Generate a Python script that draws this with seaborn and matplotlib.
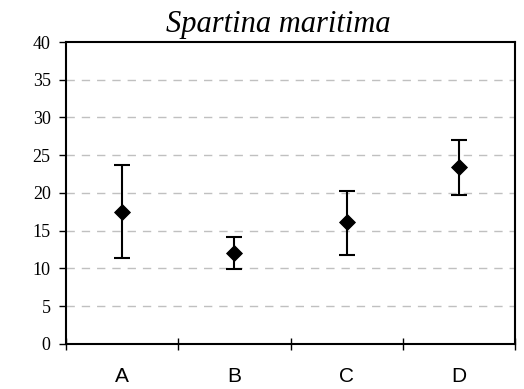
import numpy as np
import pandas as pd
import matplotlib
matplotlib.use("Agg")
import matplotlib.pyplot as plt
import seaborn as sns

# ==========================================
# DATA
# ==========================================

sites = ["A", "B", "C", "D"]
means = [17.5, 12.1, 16.1, 23.4]
lower = [11.4, 9.9, 11.8, 19.7]
upper = [23.7, 14.1, 20.3, 27.0]

df = pd.DataFrame({"site": sites, "mean": means})

# ==========================================
# PLOT
# ==========================================

sns.set_style("white")
plt.rcParams["text.color"] = "black"
plt.rcParams["xtick.color"] = "black"
plt.rcParams["ytick.color"] = "black"

fig = plt.figure(figsize=(5.24, 3.89), dpi=100)
ax = fig.add_axes([0.126, 0.116, 0.857, 0.776])

sns.scatterplot(
    data=df,
    x="site",
    y="mean",
    marker="D",
    s=65,
    color="black",
    edgecolor="black",
    zorder=4,
    ax=ax
)

xpos = np.arange(len(sites))
yerr = [
    np.array(means) - np.array(lower),
    np.array(upper) - np.array(means)
]
ax.errorbar(
    xpos,
    means,
    yerr=yerr,
    fmt="none",
    ecolor="black",
    elinewidth=1.5,
    capsize=6,
    capthick=1.5,
    zorder=3
)

ax.set_xlim(-0.5, len(sites) - 0.5)
ax.set_ylim(0, 40)
ax.set_yticks(np.arange(0, 41, 5))

# grid
for yv in np.arange(5, 40, 5):
    ax.axhline(yv, color="#c0c0c0", linestyle=(0, (6, 5)), linewidth=1, zorder=1)

# x ticks at category boundaries, labels at centres
ax.set_xticks(np.arange(-0.5, len(sites), 1.0))
ax.set_xticklabels([])
ax.set_xticks(xpos, minor=True)
ax.set_xticklabels(sites, minor=True, fontfamily="Liberation Sans", fontsize=15,
                   color="black")
ax.tick_params(axis="x", which="major", bottom=True, direction="inout",
               length=9, width=1, color="black")
ax.tick_params(axis="x", which="minor", bottom=True, length=0, pad=17)
ax.tick_params(axis="y", left=True, direction="out", length=5, width=1,
               pad=6, color="black", labelcolor="black")

for lab in ax.get_yticklabels():
    lab.set_fontfamily("Liberation Serif")
    lab.set_fontsize(13)

for sp in ax.spines.values():
    sp.set_color("black")
    sp.set_linewidth(1.5)

ax.set_xlabel("")
ax.set_ylabel("")
ax.set_title(
    "Spartina maritima",
    fontfamily="Liberation Serif",
    fontstyle="italic",
    fontsize=22,
    color="black",
    x=0.473,
    pad=7
)

fig.savefig("out.png", dpi=100)
plt.close(fig)
